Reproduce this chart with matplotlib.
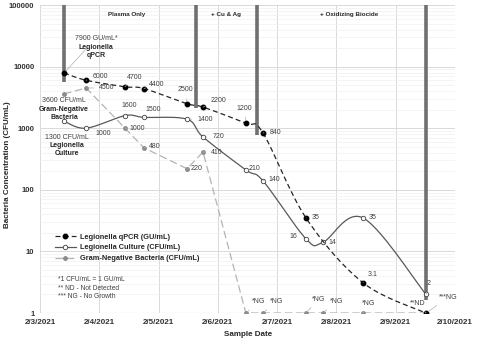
import numpy as np
import pandas as pd
import matplotlib
matplotlib.use("Agg")
import matplotlib.pyplot as plt
import matplotlib.dates as mdates

plt.rcParams['font.family'] = ['Liberation Sans Narrow', 'Liberation Sans', 'DejaVu Sans']

# sample times
sample_times = pd.to_datetime([
    "2021-02-03 09:45", "2021-02-03 18:40", "2021-02-04 10:25", "2021-02-04 18:05",
    "2021-02-05 11:30", "2021-02-05 18:00", "2021-02-06 11:20", "2021-02-06 18:15",
    "2021-02-07 11:40", "2021-02-07 18:30", "2021-02-08 10:45", "2021-02-09 12:15",
])

# non-detects / no-growth are plotted at 1
qpcr = [7900, 6000, 4700, 4400, 2500, 2200, 1200, 840, 35, None, 3.1, 1]
culture = [1300, 1000, 1600, 1500, 1400, 720, 210, 140, 16, 14, 35, 2]
gram_neg = [3600, 4500, 1000, 480, 220, 410, 1, 1, 1, 1, 1, 1]

qpcr_labels = [None, "6000", "4700", "4400", "2500", "2200", "1200", "840", "35", None, "3.1", "**ND"]
culture_labels = [None, "1000", "1600", "1500", "1400", "720", "210", "140", "16", "14", "35", "2"]
gram_labels = [None, "4500", "1000", "480", "220", "410", "*NG", "*NG", "*NG", "*NG", "*NG", "***NG"]

# label offsets in points (dx, dy)
qpcr_offsets = [None, (10, 3), (7, 7), (9, 3), (-1, 10), (11, 5), (-1, 11), (9, 0), (7, 0), None, (7, 6), (-6, 7)]
culture_offsets = [None, (12, -4), (3, 7), (7, 6), (13, 0), (11, 0), (6, 1), (8, 1), (-9, 2), (7, 0), (7, 0), (2, 8)]
gram_offsets = [None, (15, 0), (9, 0), (8, 1), (7, 0), (10, 0), (9, 8), (10, 8), (9, 10), (10, 8), (4, 7), (16, 11)]

# treatment change markers (thick gray bars), top is top of chart
bar_times = pd.to_datetime(["2021-02-03 09:45", "2021-02-05 15:10", "2021-02-06 15:50", "2021-02-09 12:15"])
bar_bottoms = [5600, 2100, 780, 1.6]

phase_names = ["Plasma Only", "+ Cu & Ag", "+ Oxidizing Biocide"]
phase_times = pd.to_datetime(["2021-02-04 11:10", "2021-02-06 03:20", "2021-02-08 05:15"])

date_ticks = pd.date_range("2021-02-03", "2021-02-10", freq="D")
date_tick_labels = ["2/3/2021", "2/4/2021", "2/5/2021", "2/6/2021", "2/7/2021", "2/8/2021", "2/9/2021", "2/10/2021"]
y_ticks = [1, 10, 100, 1000, 10000, 100000]

LBL = 5.0  # value label size


def smooth(x, y, n=20):
    # Excel-like smoothed line (Catmull-Rom in days / log10 space)
    x = np.asarray(x, float)
    y = np.log10(np.asarray(y, float))
    px, py = [], []
    for i in range(len(x) - 1):
        p0 = (x[max(i - 1, 0)], y[max(i - 1, 0)])
        p1 = (x[i], y[i])
        p2 = (x[i + 1], y[i + 1])
        p3 = (x[min(i + 2, len(x) - 1)], y[min(i + 2, len(x) - 1)])
        c1 = (p1[0] + (p2[0] - p0[0]) / 6, p1[1] + (p2[1] - p0[1]) / 6)
        c2 = (p2[0] - (p3[0] - p1[0]) / 6, p2[1] - (p3[1] - p1[1]) / 6)
        t = np.linspace(0, 1, n)
        bx = (1 - t)**3 * p1[0] + 3 * (1 - t)**2 * t * c1[0] + 3 * (1 - t) * t**2 * c2[0] + t**3 * p2[0]
        by = (1 - t)**3 * p1[1] + 3 * (1 - t)**2 * t * c1[1] + 3 * (1 - t) * t**2 * c2[1] + t**3 * p2[1]
        px.extend(bx)
        py.extend(by)
    return np.array(px), 10 ** np.array(py)


def plot_series(ax, values, labels, offsets, line_kw, marker_kw, label, smoothed=True):
    keep = [i for i, v in enumerate(values) if v is not None]
    t = sample_times[keep]
    v = [values[i] for i in keep]
    days = mdates.date2num(t)
    if smoothed:
        sx, sy = smooth(days, v)
    else:
        sx, sy = days, v
    ax.plot(sx, sy, **line_kw)
    ax.plot(days, v, linestyle='none', **marker_kw)
    ax.plot([], [], label=label, **line_kw, **marker_kw)
    for i in keep:
        if labels[i] is None:
            continue
        ax.annotate(labels[i], (mdates.date2num(sample_times[i]), values[i]),
                    xytext=offsets[i], textcoords='offset points', fontsize=LBL,
                    color='#404040', ha='center', va='center',
                    arrowprops=dict(arrowstyle='-', color='#b0b0b0', lw=0.5, shrinkA=2, shrinkB=2))


fig = plt.figure(figsize=(4.78, 3.44), dpi=100)
ax = fig.add_axes([40 / 478, 31 / 344, 415 / 478, 308 / 344])
ax.set_yscale('log')
ax.set_ylim(1, 100000)
ax.set_xlim(mdates.date2num(date_ticks[0]), mdates.date2num(date_ticks[-1]))

ax.grid(True, which='major', color='#d9d9d9', lw=0.7)
ax.grid(True, which='minor', axis='y', color='#f0f0f0', lw=0.5)
ax.set_axisbelow(True)
for s in ax.spines.values():
    s.set_visible(False)
ax.axhline(1, color='#bfbfbf', lw=0.8, zorder=1)

ax.set_xticks(mdates.date2num(date_ticks))
ax.set_xticklabels(date_tick_labels, fontsize=5.8, fontweight='bold', color='#333333')
ax.set_yticks(y_ticks)
ax.set_yticklabels([str(v) for v in y_ticks], fontsize=5.5, fontweight='bold', color='#333333')
ax.yaxis.set_minor_formatter(plt.NullFormatter())
ax.tick_params(which='both', length=0, pad=4)

# treatment bars
for t, b in zip(bar_times, bar_bottoms):
    ax.vlines(mdates.date2num(t), b, 100000, color='#707070', lw=2.6, zorder=2)

for name, t in zip(phase_names, phase_times):
    ax.text(mdates.date2num(t), 69000, name, fontsize=4.5, fontweight='bold',
            color='#262626', ha='center', va='center')

plot_series(ax, gram_neg, gram_labels, gram_offsets,
            dict(color='#b4b4b4', lw=0.9, linestyle=(0, (6, 3))),
            dict(marker='o', markersize=2.5, markerfacecolor='#8c8c8c', markeredgecolor='#8c8c8c'),
            "Gram-Negative Bacteria (CFU/mL)", smoothed=False)
plot_series(ax, culture, culture_labels, culture_offsets,
            dict(color='#595959', lw=0.9, linestyle='-'),
            dict(marker='o', markersize=3.2, markerfacecolor='white', markeredgecolor='#404040', markeredgewidth=0.6),
            "Legionella Culture (CFU/mL)")
plot_series(ax, qpcr, qpcr_labels, qpcr_offsets,
            dict(color='#262626', lw=0.9, linestyle=(0, (4, 2.5))),
            dict(marker='o', markersize=3.2, markerfacecolor='black', markeredgecolor='black'),
            "Legionella qPCR (GU/mL)")

# first-sample callouts
t0 = mdates.date2num(sample_times[0])
ax.annotate("7900 GU/mL*", (t0, qpcr[0]), xytext=(23, 25), textcoords='offset points',
            fontsize=LBL, color='#404040', ha='center', va='center',
            arrowprops=dict(arrowstyle='-', color='#b0b0b0', lw=0.5, shrinkA=3, shrinkB=2))
ax.annotate("Legionella\nqPCR", (t0, qpcr[0]), xytext=(23, 15.5), textcoords='offset points',
            fontsize=LBL, fontweight='bold', color='#262626', ha='center', va='center', linespacing=1.25)
ax.annotate("3600 CFU/mL", (t0, gram_neg[0]), xytext=(0, -5), textcoords='offset points',
            fontsize=LBL, color='#404040', ha='center', va='center')
ax.annotate("Gram-Negative\nBacteria", (t0, gram_neg[0]), xytext=(0, -14), textcoords='offset points',
            fontsize=LBL, fontweight='bold', color='#262626', ha='center', va='center', linespacing=1.25)
ax.annotate("1300 CFU/mL", (t0, culture[0]), xytext=(2, -11.5), textcoords='offset points',
            fontsize=LBL, color='#404040', ha='center', va='center')
ax.annotate("Legionella\nCulture", (t0, culture[0]), xytext=(2, -20.5), textcoords='offset points',
            fontsize=LBL, fontweight='bold', color='#262626', ha='center', va='center', linespacing=1.25)

handles, labels = ax.get_legend_handles_labels()
order = [2, 1, 0]
leg = ax.legend([handles[i] for i in order], [labels[i] for i in order],
                loc='upper left', bbox_to_anchor=(0.02, 0.28), frameon=False,
                prop=dict(size=5.3, weight='bold'), handlelength=2.8, handletextpad=0.6, labelspacing=0.5)
for txt in leg.get_texts():
    txt.set_color('#262626')

ax.text(0.043, 0.08, "*1 CFU/mL = 1 GU/mL\n** ND - Not Detected\n*** NG - No Growth",
        transform=ax.transAxes, fontsize=4.8, color='#404040', va='center', ha='left', linespacing=1.3)

fig.text(248 / 478, 1 - 335 / 344, "Sample Date", fontsize=5.8, fontweight='bold',
         color='#262626', ha='center', va='center')
fig.text(8 / 478, 1 - 165 / 344, "Bacteria Concentration (CFU/mL)", fontsize=5.8, fontweight='bold',
         color='#262626', ha='center', va='center', rotation=90)

fig.savefig("out.png", dpi=100)
